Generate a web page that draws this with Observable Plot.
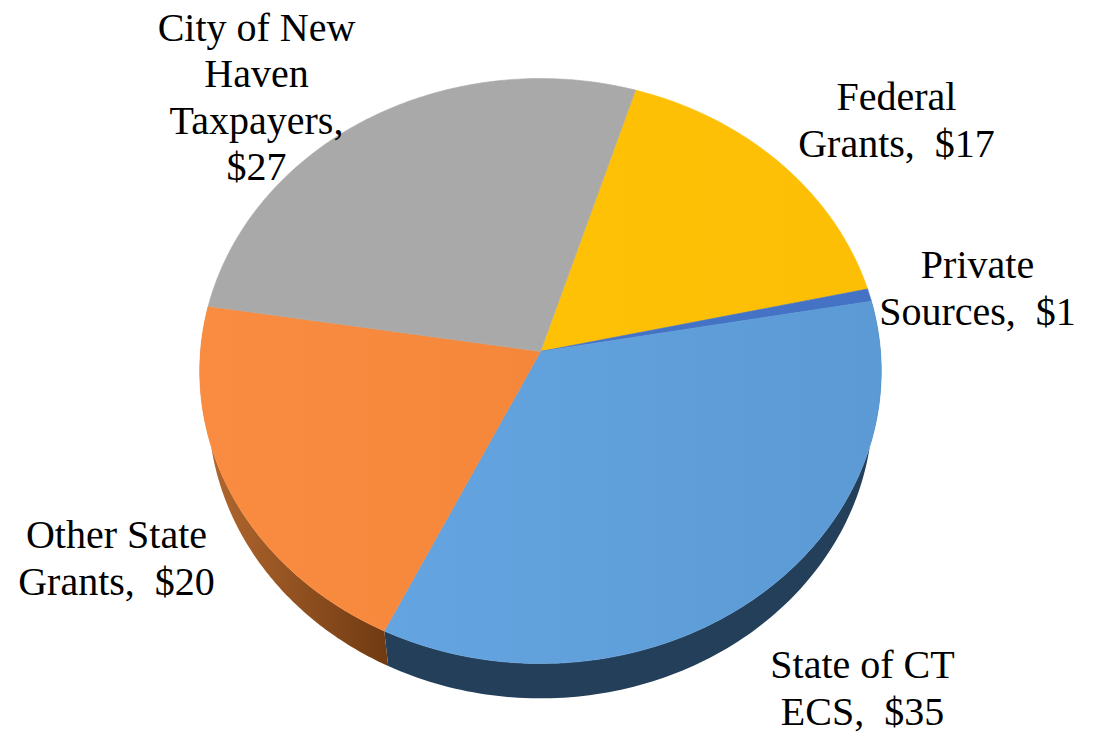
<!DOCTYPE html>
<html>
<head>
<meta charset="utf-8">
<style>html,body{margin:0;padding:0;background:#fff}svg{display:block}</style>
<script src="https://cdn.jsdelivr.net/npm/d3@7"></script>
<script src="https://cdn.jsdelivr.net/npm/@observablehq/plot@0.6"></script>
</head>
<body>
<div id="chart"></div>
<script>
// Data (clockwise from the top of the pie)
const categories = ["Federal\nGrants,", "Private\nSources,", "State of CT\nECS,", "Other State\nGrants,", "City of New\nHaven\nTaxpayers,\n"];
const shares = [16.7, 0.7, 34.9, 20.4, 27.3];

// Styling
const topFills = ["url(#gYellow)", "#4472c4", "url(#gBlue)", "url(#gOrange)", "url(#gGray)"];
const sideFills = [null, null, "#243f5a", "url(#gOrangeSide)", null];
const labelX = [896, 977, 862, 116, 256];
const labelY = [118, 286, 686, 556, 95];

// Pie geometry: a tilted disc in perspective
const deg = Math.PI / 180;
const tilt = 0.0667;
const topDisc = {cx: 540, cy: 351, a: 340, b: 291.2};
const lowDisc = {cx: 540, cy: 388, a: 331.5, b: 289.2};
const project = (disc, angle) => {
  const u = Math.sin(angle), v = -Math.cos(angle), w = 1 - tilt * v;
  return {x: disc.cx + disc.a * u / w, y: disc.cy + disc.b * v / w};
};
const arcPoints = (disc, a0, a1) =>
  d3.range(0, 121).map((i) => project(disc, a0 + (a1 - a0) * i / 120));

const arcs = d3.pie().sort(null).value((d) => d).startAngle(17.3 * deg).endAngle(377.3 * deg)(shares);

const sideMarks = arcs.flatMap((arc, i) => {
  if (!sideFills[i]) return [];
  const pts = [...arcPoints(topDisc, arc.startAngle, arc.endAngle), ...arcPoints(lowDisc, arc.startAngle, arc.endAngle).reverse()];
  return [Plot.line(pts, {x: "x", y: "y", fill: sideFills[i], stroke: "none"})];
});
const topMarks = arcs.map((arc, i) =>
  Plot.line([{x: topDisc.cx, y: topDisc.cy}, ...arcPoints(topDisc, arc.startAngle, arc.endAngle), {x: topDisc.cx, y: topDisc.cy}],
    {x: "x", y: "y", fill: topFills[i], stroke: topFills[i], strokeWidth: 0.6})
);

const labels = categories.map((c, i) => {
  const amount = "$" + Math.round(shares[i]);
  const text = c.endsWith("\n") ? c + amount : c + "\u00a0 " + amount;
  return {text, x: labelX[i], y: labelY[i]};
});

const gradients = () => {
  const defs = document.createElementNS("http://www.w3.org/2000/svg", "defs");
  const grad = (id, a, b) => `<linearGradient id="${id}" x1="0" x2="1" y1="0" y2="0"><stop offset="0" stop-color="${a}"/><stop offset="1" stop-color="${b}"/></linearGradient>`;
  defs.innerHTML = grad("gYellow", "#ffc106", "#fdbf05")
    + grad("gBlue", "#64a4e0", "#5b9ad4")
    + grad("gOrange", "#fa8c41", "#f5873b")
    + grad("gGray", "#a9a9a9", "#a9a9a9")
    + grad("gOrangeSide", "#b56a30", "#703a12");
  return defs;
};

const chart = Plot.plot({
  width: 1093,
  height: 732,
  margin: 0,
  x: {domain: [0, 1093], range: [0, 1093], axis: null},
  y: {domain: [0, 732], range: [0, 732], axis: null},
  marks: [
    gradients,
    ...sideMarks,
    ...topMarks,
    Plot.text(labels, {
      x: "x", y: "y", text: "text",
      textAnchor: "middle",
      fontFamily: "Liberation Serif",
      fontSize: 40,
      lineHeight: 1.16,
      fill: "#000"
    })
  ]
});
document.getElementById("chart").append(chart);
</script>
</body>
</html>
